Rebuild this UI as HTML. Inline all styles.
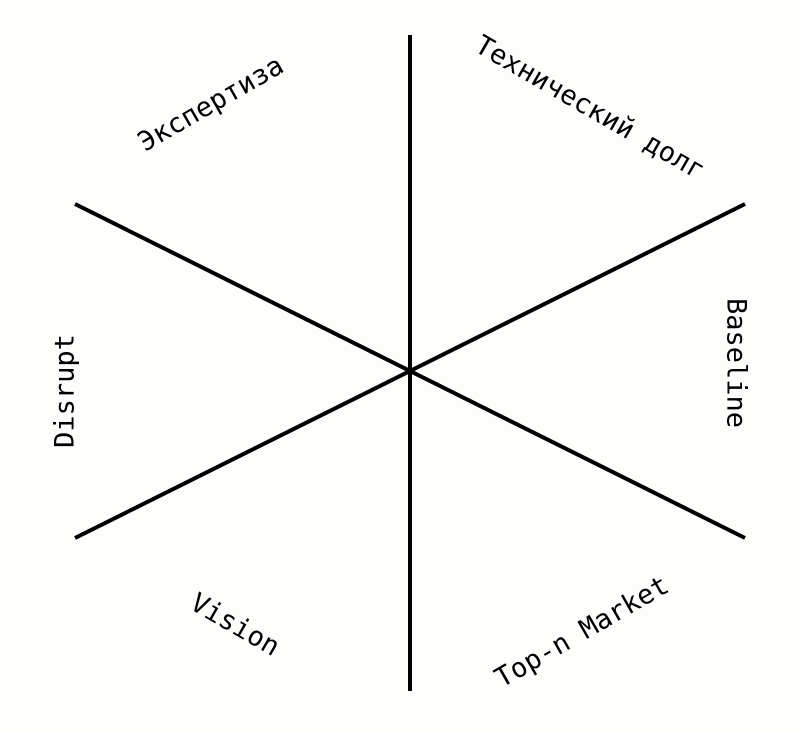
<!DOCTYPE html>
<html>
<head>
<meta charset="utf-8">
<style>
html,body{margin:0;padding:0;background:#fdfdfc;}
svg{display:block;}
text{font-family:"DejaVu Sans Mono","Liberation Mono",monospace;font-size:27px;fill:#000;}
</style>
</head>
<body>
<svg width="800" height="731" viewBox="0 0 800 731" xmlns="http://www.w3.org/2000/svg">
<rect width="800" height="731" fill="#fdfdfc"/>
<g stroke="#000" stroke-width="4" stroke-linecap="butt">
<line x1="410" y1="35" x2="410" y2="691"/>
<line x1="75" y1="204" x2="745" y2="538"/>
<line x1="75" y1="538" x2="745" y2="204"/>
</g>
<g text-anchor="middle" dominant-baseline="central">
<text transform="translate(211,104) rotate(-30)">Экспертиза</text>
<text transform="translate(590,108) rotate(30)">Технический долг</text>
<text transform="translate(736,363) rotate(90)">Baseline</text>
<text transform="translate(65,391) rotate(-90)">Disrupt</text>
<text transform="translate(235,625) rotate(30)">Vision</text>
<text transform="translate(582,632) rotate(-30)">Top-n Market</text>
</g>
</svg>
</body>
</html>
